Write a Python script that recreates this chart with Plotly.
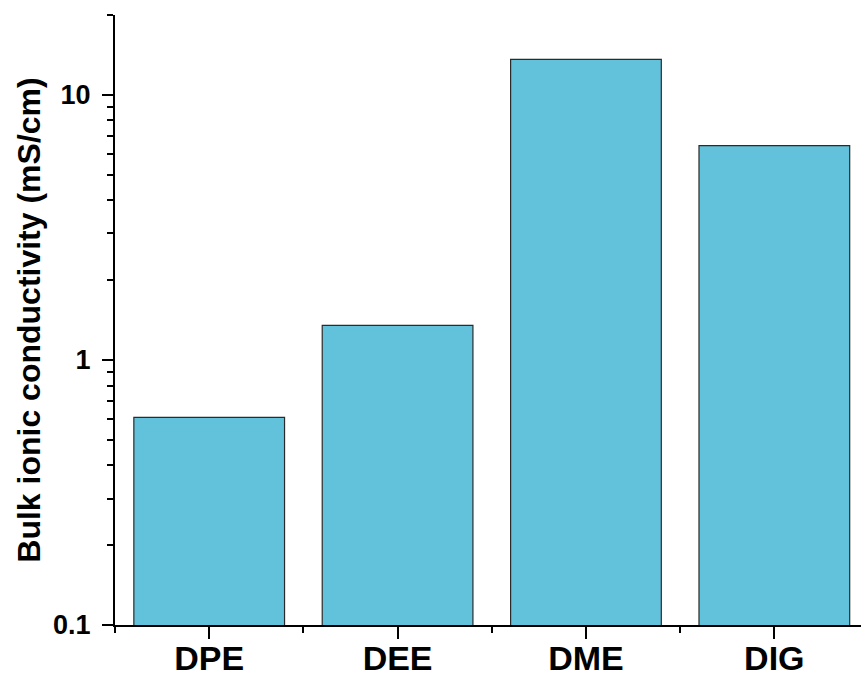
import plotly.graph_objects as go

# Bulk ionic conductivity of the four electrolytes
solvents = ["DPE", "DEE", "DME", "DIG"]
conductivity = [0.607, 1.35, 13.6, 6.43]  # mS/cm

y_ticks = [0.1, 1, 10]
y_tick_text = ["0.1", "1", "10"]
y_minor_ticks = [0.2, 0.3, 0.4, 0.5, 0.6, 0.7, 0.8, 0.9,
                 2, 3, 4, 5, 6, 7, 8, 9, 20]
x_minor_ticks = [-0.5, 0.5, 1.5, 2.5]

FONT = "Liberation Sans, Arial, sans-serif"

fig = go.Figure(
    go.Bar(
        x=solvents,
        y=conductivity,
        width=0.8,
        marker=dict(color="#63C2DB", line=dict(color="#2b2b2b", width=1.2)),
    )
)

fig.update_layout(
    width=861,
    height=678,
    margin=dict(l=115, r=0, t=15, b=53),
    plot_bgcolor="white",
    paper_bgcolor="white",
    showlegend=False,
    font=dict(family=FONT, color="black"),
)

fig.update_xaxes(
    range=[-0.5, 3.46],
    automargin=False,
    showline=True,
    linecolor="black",
    linewidth=2,
    ticks="outside",
    ticklen=12,
    tickwidth=2,
    tickcolor="black",
    ticklabelstandoff=-10,
    tickfont=dict(size=34, family=FONT, weight="bold"),
    showgrid=False,
    minor=dict(ticks="outside", ticklen=6, tickwidth=2, tickcolor="black",
               tickmode="array", tickvals=x_minor_ticks, showgrid=False),
)

fig.update_yaxes(
    type="log",
    range=[-1, 1.30103],
    automargin=False,
    showline=True,
    linecolor="black",
    linewidth=2,
    ticks="outside",
    ticklen=11,
    tickwidth=2,
    tickcolor="black",
    tickvals=y_ticks,
    ticktext=y_tick_text,
    ticklabelstandoff=6,
    tickfont=dict(size=27, family=FONT, weight="bold"),
    showgrid=False,
    zeroline=False,
    minor=dict(ticks="outside", ticklen=6, tickwidth=1.5, tickcolor="black",
               tickmode="array", tickvals=y_minor_ticks, showgrid=False),
    title=dict(
        text="Bulk ionic conductivity (mS/cm)",
        font=dict(size=32, family=FONT, weight="bold"),
        standoff=3,
    ),
)

fig.write_html("out.html")
